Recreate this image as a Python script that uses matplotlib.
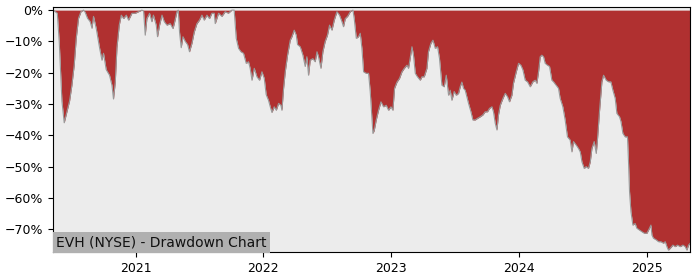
import numpy as np
import pandas as pd
from matplotlib import pyplot as plt
from matplotlib import ticker
from matplotlib import dates as mdates

# decimal years, drawdown in percent
years = [
    2020.359, 2020.391, 2020.406, 2020.427, 2020.445, 2020.466, 2020.487, 2020.505, 2020.523, 2020.539,
    2020.557, 2020.576, 2020.596, 2020.609, 2020.627, 2020.648, 2020.662, 2020.674, 2020.695, 2020.721,
    2020.740, 2020.752, 2020.773, 2020.799, 2020.818, 2020.830, 2020.844, 2020.857, 2020.875, 2020.891,
    2020.909, 2020.930, 2020.948, 2020.974, 2021.000, 2021.026, 2021.052, 2021.065, 2021.078, 2021.091,
    2021.112, 2021.130, 2021.142, 2021.164, 2021.174, 2021.190, 2021.209, 2021.227, 2021.248, 2021.273,
    2021.295, 2021.305, 2021.326, 2021.336, 2021.346, 2021.359, 2021.373, 2021.391, 2021.409, 2021.424,
    2021.443, 2021.461, 2021.482, 2021.502, 2021.521, 2021.539, 2021.560, 2021.580, 2021.599, 2021.617,
    2021.625, 2021.651, 2021.677, 2021.703, 2021.727, 2021.755, 2021.773, 2021.789, 2021.807, 2021.826,
    2021.846, 2021.867, 2021.885, 2021.898, 2021.912, 2021.930, 2021.951, 2021.971, 2021.990, 2022.008,
    2022.023, 2022.041, 2022.055, 2022.068, 2022.086, 2022.102, 2022.120, 2022.138, 2022.146, 2022.159,
    2022.172, 2022.190, 2022.211, 2022.224, 2022.242, 2022.258, 2022.268, 2022.289, 2022.310, 2022.328,
    2022.341, 2022.354, 2022.367, 2022.388, 2022.406, 2022.420, 2022.432, 2022.451, 2022.466, 2022.484,
    2022.502, 2022.518, 2022.537, 2022.555, 2022.576, 2022.596, 2022.615, 2022.627, 2022.641, 2022.659,
    2022.680, 2022.701, 2022.711, 2022.727, 2022.744, 2022.758, 2022.771, 2022.784, 2022.805, 2022.823,
    2022.836, 2022.849, 2022.857, 2022.867, 2022.883, 2022.901, 2022.920, 2022.940, 2022.961, 2022.979,
    2022.998, 2023.013, 2023.026, 2023.045, 2023.065, 2023.084, 2023.102, 2023.123, 2023.135, 2023.148,
    2023.162, 2023.174, 2023.188, 2023.205, 2023.227, 2023.240, 2023.258, 2023.279, 2023.291, 2023.310,
    2023.326, 2023.344, 2023.362, 2023.377, 2023.396, 2023.414, 2023.430, 2023.448, 2023.461, 2023.474,
    2023.492, 2023.508, 2023.526, 2023.539, 2023.552, 2023.565, 2023.578, 2023.591, 2023.604, 2023.623,
    2023.638, 2023.656, 2023.674, 2023.695, 2023.716, 2023.734, 2023.752, 2023.768, 2023.787, 2023.799,
    2023.813, 2023.826, 2023.838, 2023.852, 2023.873, 2023.891, 2023.909, 2023.924, 2023.943, 2023.955,
    2023.977, 2023.995, 2024.013, 2024.029, 2024.047, 2024.065, 2024.086, 2024.107, 2024.125, 2024.138,
    2024.151, 2024.164, 2024.177, 2024.190, 2024.203, 2024.221, 2024.237, 2024.255, 2024.268, 2024.289,
    2024.307, 2024.320, 2024.341, 2024.359, 2024.377, 2024.398, 2024.412, 2024.424, 2024.445, 2024.463,
    2024.477, 2024.490, 2024.508, 2024.523, 2024.541, 2024.555, 2024.568, 2024.586, 2024.602, 2024.612,
    2024.627, 2024.646, 2024.659, 2024.680, 2024.698, 2024.716, 2024.732, 2024.750, 2024.763, 2024.784,
    2024.795, 2024.810, 2024.828, 2024.846, 2024.854, 2024.862, 2024.873, 2024.888, 2024.906, 2024.919,
    2024.940, 2024.958, 2024.977, 2024.998, 2025.018, 2025.029, 2025.037, 2025.049, 2025.070, 2025.088,
    2025.107, 2025.127, 2025.141, 2025.154, 2025.166, 2025.180, 2025.201, 2025.219, 2025.237, 2025.258,
    2025.279, 2025.297, 2025.310, 2025.323, 2025.336,
]
drawdown = [
    0, -1, -10, -29, -36, -32.5, -29, -24, -17.6, -9,
    -2.6, -0.5, 0, -0.7, -2.6, -3.7, -5.8, -2, -5.8, -12,
    -16, -13.8, -19, -20.8, -24, -28.4, -23, -12, -4.8, -1.6,
    -2.7, -1.6, -3.2, -1, -1, -0.5, 0, -0.3, -8, -2.7,
    -1, -3.7, -1.6, -4.8, -8.5, -4.8, -1.6, -3.7, -4.8, -4.3,
    -5.9, -4.3, -0.5, 0, -7, -12, -8.5, -10, -11, -13.3,
    -10.6, -7, -4.3, -3.2, -1.6, -3.2, -1.6, -2.7, -1, -1,
    -4.3, -1, -2, -0.5, -1, 0, 0, -9, -12.2, -13.3,
    -13.8, -17, -16.5, -18.6, -22.4, -18.6, -21.3, -22.4, -19.7, -21.8,
    -27, -28.8, -30.9, -32.7, -30.9, -32, -29.8, -30.4, -32, -25,
    -19.7, -14.4, -9.6, -8.5, -6.4, -8, -11, -11.7, -14.4, -18,
    -14.9, -20.8, -16, -15.5, -16.5, -13.3, -14.9, -18.6, -13.3, -10,
    -8, -4.8, -6.4, -3.2, -0.5, -1.6, -3.7, -5.3, -2.7, -2,
    -0.5, 0, -2.7, -9, -8.5, -7.4, -12.2, -19.7, -20.2, -20.2,
    -26, -34.6, -39.4, -38.5, -35.1, -32, -29.3, -30.9, -30.4, -32,
    -30.9, -32, -25, -23, -21.8, -19.7, -18.6, -17.6, -18.6, -15.4,
    -11.7, -14.4, -20.2, -21.3, -22.4, -21.3, -21.3, -18.6, -13.3, -10.6,
    -9.6, -12.2, -11.7, -15.4, -24, -24.5, -20.8, -27.2, -25.6, -28.8,
    -26, -27.2, -26.6, -24.5, -23, -25, -25.6, -27.7, -29.8, -32.5,
    -35.1, -35.1, -34.6, -34.1, -33.5, -32.5, -32.5, -31.4, -30.9, -32.5,
    -36.2, -38.3, -33.5, -30.4, -28.2, -26.6, -27.7, -29.3, -27.2, -23.4,
    -19.7, -17, -17.6, -19.1, -22.4, -22.9, -24.5, -22.9, -22.4, -23.4,
    -19.7, -14.9, -14.4, -14.9, -17, -17.6, -18, -22.4, -22.9, -24,
    -25, -28.2, -30.9, -35.1, -40.5, -41.5, -45.3, -42, -43.1, -44.2,
    -45.3, -48.5, -50.6, -50, -50.6, -48.5, -44.2, -42, -45.8, -41,
    -32.5, -22.9, -20.8, -22.4, -22.9, -22.9, -25.6, -28.2, -33, -34.1,
    -35.6, -39.4, -40.5, -40.5, -48.5, -58, -64.4, -68.7, -68.2, -69.7,
    -70.3, -70.8, -71.3, -71.3, -69.7, -68.7, -71.9, -72.9, -73.4, -74,
    -74, -74.5, -74, -75.6, -76.7, -76.1, -75.1, -75.6, -75.1, -75.6,
    -75.1, -75.6, -76.7, -75.1, -74.5,
]
title = "EVH (NYSE) - Drawdown Chart"


def to_dates(yrs):
    base = pd.Timestamp("2020-01-01")
    return [base + pd.Timedelta(days=(y - 2020) * 365.25) for y in yrs]


dates = to_dates(years)
dd = np.array(drawdown)

fig = plt.figure(figsize=(7, 2.8), dpi=100, facecolor="white")
ax = fig.add_axes([0.076, 0.1, 0.91, 0.875])
ax.set_facecolor("#ececec")

ax.fill_between(dates, dd, 0, color="#b03030", linewidth=0)
ax.plot(dates, dd, color="#999999", linewidth=0.8)

ax.set_xlim(dates[0], dates[-1])
ax.set_ylim(-77.3, 1.0)
ax.xaxis.set_major_locator(mdates.YearLocator())
ax.xaxis.set_major_formatter(mdates.DateFormatter("%Y"))
ax.yaxis.set_major_locator(ticker.MultipleLocator(10))
ax.yaxis.set_major_formatter(ticker.FuncFormatter(lambda v, p: f"{v:.0f}%".replace("-", "\u2212")))
ax.tick_params(labelsize=9)

ax.text(0.005, 0.012, title, transform=ax.transAxes, fontsize=10, color="#111111",
        ha="left", va="bottom",
        bbox=dict(facecolor="#b0b0b0", edgecolor="none", pad=2.5))

plt.savefig("out.png", dpi=100)
plt.close()
